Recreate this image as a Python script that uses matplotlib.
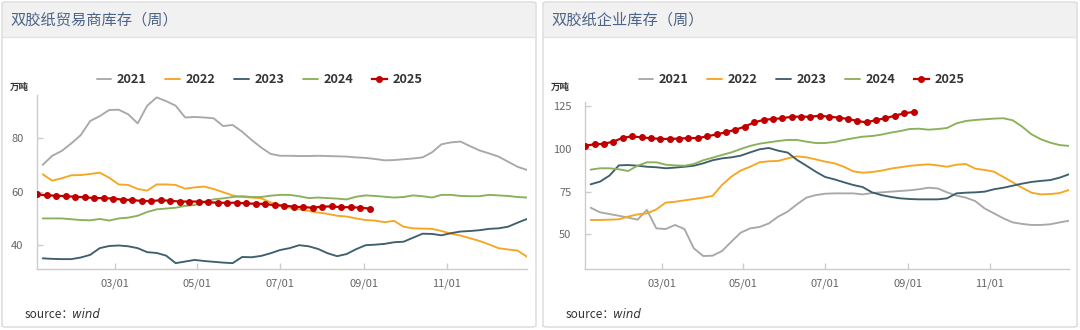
import matplotlib
matplotlib.use("Agg")
import matplotlib.pyplot as plt
import matplotlib.dates as mdates
from matplotlib.patches import FancyBboxPatch, Rectangle
from matplotlib.lines import Line2D
import pandas as pd

plt.rcParams['font.family'] = ['Noto Sans CJK SC', 'DejaVu Sans']

# ---------------- data ----------------
titles = ["双胶纸贸易商库存（周）", "双胶纸企业库存（周）"]
unit = "万吨"
years = ["2021", "2022", "2023", "2024", "2025"]
tick_labels = ["03/01", "05/01", "07/01", "09/01", "11/01"]

# trader inventory (left)
trader_2021 = [70.0, 73.4, 75.2, 78.0, 81.1, 86.4, 88.2, 90.5, 90.6, 88.9, 85.5, 92.1, 95.2, 93.8, 92.1, 87.7, 87.9,
               87.7, 87.4, 84.5, 84.9, 82.4, 79.3, 76.5, 74.1, 73.4, 73.4, 73.3, 73.3, 73.4, 73.3, 73.2, 73.1, 72.8,
               72.6, 72.2, 71.7, 71.8, 72.1, 72.4, 72.8, 74.7, 77.7, 78.4, 78.7, 77.0, 75.4, 74.3, 73.1, 71.2, 69.3, 68.1]
trader_2022 = [66.5, 64.1, 65.0, 66.1, 66.2, 66.6, 67.1, 65.2, 62.7, 62.5, 61.0, 60.4, 62.7, 62.7, 62.5, 61.1, 61.6,
               61.9, 61.0, 59.8, 58.6, 58.0, 57.8, 57.5, 56.0, 55.0, 54.0, 53.4, 52.8, 52.2, 51.7, 51.0, 50.7, 50.0,
               49.4, 49.2, 48.6, 49.1, 46.9, 46.3, 46.2, 46.1, 45.3, 44.3, 43.6, 42.6, 41.6, 40.3, 38.9, 38.4, 38.0, 35.7]
trader_2023 = [35.1, 34.9, 34.8, 34.8, 35.4, 36.4, 38.9, 39.7, 39.9, 39.6, 38.9, 37.4, 37.1, 36.1, 33.3, 33.9, 34.5,
               34.1, 33.8, 33.5, 33.3, 35.6, 35.5, 36.0, 37.0, 38.2, 38.9, 40.0, 39.6, 38.6, 37.0, 35.9, 36.7, 38.5,
               40.0, 40.2, 40.5, 41.1, 41.3, 42.8, 44.3, 44.2, 43.7, 44.5, 45.1, 45.3, 45.6, 46.1, 46.3, 46.9, 48.4, 49.8]
trader_2024 = [50.0, 50.0, 50.0, 49.7, 49.4, 49.3, 49.8, 49.2, 50.0, 50.3, 51.0, 52.4, 53.4, 53.7, 54.0, 54.7, 55.0,
               56.3, 57.1, 57.5, 58.0, 58.3, 58.0, 58.0, 58.5, 58.8, 58.8, 58.3, 57.6, 57.8, 57.6, 57.4, 57.1, 58.1,
               58.6, 58.4, 58.1, 57.8, 58.0, 58.6, 58.3, 57.8, 58.8, 58.8, 58.4, 58.3, 58.3, 58.8, 58.6, 58.4, 58.0, 57.8]
trader_2025 = [59.0, 58.6, 58.5, 58.3, 58.1, 57.9, 57.6, 57.6, 57.4, 57.0, 56.9, 56.5, 56.5, 56.8, 56.6, 56.3, 56.3,
               56.3, 56.0, 55.9, 55.8, 55.9, 55.6, 55.5, 55.4, 54.9, 54.8, 54.4, 54.2, 54.0, 54.4, 54.5, 54.2, 54.2,
               54.0, 53.7]

# mill inventory (right)
mill_2021 = [65.6, 62.9, 61.9, 60.9, 59.8, 58.6, 64.3, 53.5, 53.1, 55.5, 53.1, 41.8, 37.3, 37.5, 40.2, 45.7, 51.0,
             53.5, 54.3, 56.4, 60.4, 63.3, 67.6, 71.5, 73.0, 73.8, 74.0, 74.0, 74.0, 73.4, 74.2, 74.6, 75.0, 75.4,
             75.8, 76.4, 77.3, 76.9, 74.6, 72.7, 71.5, 69.5, 65.2, 62.3, 59.4, 57.0, 56.1, 55.5, 55.5, 55.9, 57.0, 58.0]
mill_2022 = [58.4, 58.4, 58.6, 58.8, 60.4, 61.7, 62.3, 64.6, 68.6, 69.1, 69.9, 70.7, 71.5, 72.5, 78.9, 83.8, 87.4,
             89.6, 92.2, 92.8, 93.0, 94.5, 95.7, 95.1, 93.9, 92.6, 91.6, 89.6, 86.9, 86.1, 86.5, 87.3, 88.5, 89.3,
             90.1, 90.6, 91.0, 90.4, 89.6, 90.8, 91.2, 88.5, 87.7, 86.7, 83.6, 80.5, 77.3, 74.4, 73.4, 73.6, 74.2, 76.0]
mill_2023 = [79.3, 80.9, 84.4, 90.4, 90.6, 90.2, 89.6, 89.3, 88.7, 89.1, 89.6, 90.2, 91.6, 93.4, 94.5, 95.1, 96.1,
             98.0, 99.8, 100.6, 99.0, 97.9, 93.6, 90.2, 86.7, 83.6, 82.2, 80.5, 78.9, 77.7, 74.6, 73.0, 71.9, 71.1,
             70.7, 70.5, 70.5, 70.5, 71.1, 74.0, 74.4, 74.6, 75.0, 76.4, 77.3, 78.5, 79.7, 80.7, 81.3, 81.8, 83.2, 85.2]
mill_2024 = [87.9, 88.7, 88.7, 88.1, 87.1, 90.2, 92.2, 92.2, 90.8, 90.4, 90.2, 91.2, 93.4, 94.9, 96.5, 98.0, 100.0,
             101.8, 103.1, 103.9, 104.7, 105.3, 105.3, 104.3, 103.5, 103.5, 104.1, 105.3, 106.3, 107.2, 107.6, 108.4,
             109.6, 110.5, 111.7, 111.9, 111.3, 111.7, 112.3, 115.0, 116.4, 117.0, 117.4, 117.8, 118.0, 116.8, 113.1,
             108.6, 105.7, 103.7, 102.3, 101.8]
mill_2025 = [102.0, 102.7, 103.1, 104.3, 106.6, 107.4, 106.8, 106.3, 105.9, 105.9, 106.1, 106.4, 106.4, 107.4, 108.6,
             109.8, 111.3, 113.1, 115.6, 117.0, 117.6, 118.0, 118.9, 118.9, 118.9, 119.5, 118.9, 118.4, 117.6, 116.4,
             115.6, 117.0, 118.0, 119.5, 120.9, 121.7]

# weekly date axes (mapped onto a single calendar year)
dates_hist = pd.date_range("2025-01-07", periods=52, freq="7D")
dates_2025 = pd.date_range("2025-01-03", periods=36, freq="7D")
tick_dates = pd.to_datetime(["2025-03-01", "2025-05-01", "2025-07-01", "2025-09-01", "2025-11-01"])
x_start, x_end = pd.Timestamp("2025-01-03"), pd.Timestamp("2025-12-30")

colors = ["#a8a8a8", "#f5a623", "#3e5f6c", "#8bb05a", "#c00000"]

# ---------------- figure ----------------
W, H = 1080, 330
fig = plt.figure(figsize=(W / 100, H / 100), dpi=100)
fig.patch.set_facecolor("white")


def fx(x):
    return x / W


def fy(y):
    return 1 - y / H


def panel(x0, x1, title):
    fig.patches.append(FancyBboxPatch((fx(x0), fy(327)), fx(x1 - x0), 325 / H,
                                      boxstyle="round,pad=0,rounding_size=0.004",
                                      transform=fig.transFigure, facecolor="white",
                                      edgecolor="#d9d9d9", linewidth=1.0, zorder=-3))
    fig.patches.append(Rectangle((fx(x0 + 1), fy(37)), fx(x1 - x0 - 2), 34 / H,
                                 transform=fig.transFigure, facecolor="#f1f1f1",
                                 edgecolor="none", zorder=-2))
    fig.lines.append(Line2D([fx(x0 + 1), fx(x1 - 1)], [fy(37), fy(37)],
                            transform=fig.transFigure, color="#e2e2e2", lw=1.0, zorder=-1))
    fig.text(fx(x0 + 8), fy(20), title, fontsize=11, color="#4d6388", va="center", ha="left")
    fig.text(fx(x0 + 8), fy(87), unit, fontsize=6.8, color="#333333", va="center", ha="left",
             fontweight="bold")
    fig.text(fx(x0 + 23), fy(314), "source：", fontsize=8.5, color="#333333", va="center", ha="left")
    fig.text(fx(x0 + 70), fy(314), "wind", fontsize=8.5, color="#333333", va="center", ha="left",
             style="italic", family="DejaVu Sans")


def make_axes(left, right, top, bottom, ylim, yticks, series, s2025, legend_cx):
    ax = fig.add_axes([fx(left), fy(bottom), fx(right - left), (bottom - top) / H])
    ax.set_facecolor("none")
    ax.set_zorder(1)
    for i, ser in enumerate(series):
        ax.plot(dates_hist, ser, color=colors[i], lw=1.35, label=years[i], solid_capstyle="round")
    ax.plot(dates_2025, s2025, color=colors[4], lw=1.6, marker="o", markersize=4.0,
            label=years[4], zorder=5)
    ax.set_xlim(x_start, x_end)
    ax.set_ylim(*ylim)
    ax.set_yticks(yticks)
    ax.set_xticks(tick_dates)
    ax.set_xticklabels(tick_labels)
    for s in ["top", "right"]:
        ax.spines[s].set_visible(False)
    for s in ["left", "bottom"]:
        ax.spines[s].set_color("#cccccc")
        ax.spines[s].set_linewidth(1.0)
    ax.tick_params(axis="both", direction="in", color="#cccccc", length=4, width=1,
                   labelcolor="#666666", labelsize=8)
    ax.tick_params(axis="y", pad=10)
    ax.tick_params(axis="x", pad=7)
    leg = ax.legend(loc="center", bbox_to_anchor=(fx(legend_cx), fy(80)),
                    bbox_transform=fig.transFigure, ncol=5, frameon=False,
                    fontsize=9.2, handlelength=1.15, handletextpad=0.45, columnspacing=1.45)
    for t in leg.get_texts():
        t.set_color("#333333")
        t.set_fontweight("bold")
    return ax


panel(2, 536, titles[0])
panel(543, 1077, titles[1])

make_axes(37.3, 527, 95, 268.5, (31.3, 96.1), [40, 60, 80],
          [trader_2021, trader_2022, trader_2023, trader_2024], trader_2025, 259.5)
make_axes(585.3, 1069, 101.7, 269, (29.7, 127.7), [50, 75, 100, 125],
          [mill_2021, mill_2022, mill_2023, mill_2024], mill_2025, 801.5)

fig.savefig("out.png", dpi=100)
